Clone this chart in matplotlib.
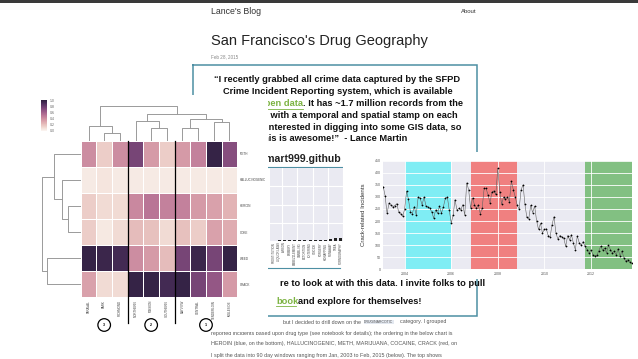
import numpy as np
import pandas as pd
import matplotlib
matplotlib.use("Agg")
import matplotlib.pyplot as plt
import matplotlib.dates as mdates
from matplotlib.patches import Rectangle, Circle
import seaborn as sns

W, H = 638, 359
DPI = 100
FONT = "Liberation Sans"

# ---------------- data ----------------
districts = ["TARAVAL", "PARK", "RICHMOND", "NORTHERN", "MISSION", "SOUTHERN",
             "BAYVIEW", "CENTRAL", "TENDERLOIN", "INGLESIDE"]
drugs = ["METH", "HALLUCINOGENIC", "HEROIN", "COKE", "WEED", "CRACK"]
meth = [0.40, 0.15, 0.40, 0.75, 0.35, 0.15, 0.35, 0.45, 0.97, 0.70]
hallucinogenic = [0.04, 0.06, 0.04, 0.04, 0.04, 0.04, 0.04, 0.04, 0.04, 0.04]
heroin = [0.15, 0.10, 0.10, 0.42, 0.50, 0.45, 0.45, 0.35, 0.32, 0.25]
coke = [0.15, 0.05, 0.10, 0.22, 0.20, 0.10, 0.20, 0.15, 0.32, 0.28]
weed = [0.97, 0.95, 0.92, 0.40, 0.35, 0.22, 0.75, 0.95, 0.75, 0.97]
crack = [0.32, 0.10, 0.10, 0.97, 0.97, 0.92, 0.97, 0.75, 0.65, 0.35]
cluster_sizes = [3, 3, 4]
cluster_names = ["3", "2", "1"]

# linkage: (left, right, height) ; leaves 0..n-1 in display order
col_linkage = [(1, 2, 8), (0, 10, 14), (4, 5, 12), (3, 12, 19), (6, 7, 12),
               (8, 9, 18), (14, 15, 21), (13, 16, 26), (11, 17, 34)]
row_linkage = [(2, 3, 13), (1, 6, 19), (0, 7, 27), (4, 5, 34), (8, 9, 39)]

crack_2003 = [342, 305, 232, 273, 266, 260, 264, 272, 236, 230, 220]
crack_2004 = [248, 324, 290, 238, 231, 260, 225, 300, 294, 267, 300, 262]
crack_2005 = [258, 253, 238, 212, 246, 232, 262, 232, 260, 294, 300, 245]
crack_2006 = [192, 226, 288, 246, 252, 246, 268, 225, 358, 330, 253, 296]
crack_2007 = [267, 253, 267, 231, 253, 335, 336, 308, 275, 320, 325, 310]
crack_2008 = [418, 322, 270, 300, 290, 300, 280, 365, 330, 300, 265, 250]
crack_2009 = [330, 350, 270, 215, 210, 265, 235, 262, 200, 165, 190, 150]
crack_2010 = [165, 168, 140, 135, 185, 218, 150, 125, 140, 135, 128, 95]
crack_2011 = [140, 122, 143, 108, 82, 138, 110, 100, 115, 95, 82, 68]
crack_2012 = [80, 60, 55, 58, 75, 95, 80, 88, 68, 100, 82, 68]
crack_2013 = [74, 60, 85, 55, 75, 48, 33, 40, 30, 25]
series_start = "2003-02-01"
spans = [("2004-01-01", "2006-01-01", "#7fedf4"),
         ("2006-11-01", "2008-11-01", "#f08080"),
         ("2011-10-01", "2013-10-01", "#82c082")]
y_ticks = [0, 50, 100, 150, 200, 250, 300, 350, 400, 450]

blog_bar_values = [0.4, 0.5, 0.5, 0.6, 0.7, 0.8, 0.8, 0.9, 1.0, 1.0, 1.2, 1.8, 2.2, 2.6]
blog_bar_labels = ["PROSTITUTION", "LIQUOR LAWS", "ARSON", "BRIBERY", "EMBEZZLEMENT",
                   "GAMBLING", "EXTORTION", "LOITERING", "SUICIDE", "FORGERY",
                   "KIDNAPPING", "RUNAWAY", "TREA", "PORNOGRAPHY"]

# ---------------- helpers ----------------
fig = plt.figure(figsize=(W / DPI, H / DPI), dpi=DPI)
fig.patch.set_facecolor("white")


def rect(x0, y0, x1, y1):
    return [x0 / W, 1 - y1 / H, (x1 - x0) / W, (y1 - y0) / H]


def panel(x0, y0, x1, y1, z):
    a = fig.add_axes(rect(x0, y0, x1, y1), zorder=z)
    a.set_xlim(x0, x1)
    a.set_ylim(y1, y0)
    a.set_xticks([])
    a.set_yticks([])
    a.set_facecolor("white")
    for s in a.spines.values():
        s.set_visible(False)
    return a


def dendro_segments(linkage, n):
    pos = {i: i + 0.5 for i in range(n)}
    hgt = {i: 0.0 for i in range(n)}
    segs = []
    for k, (a, b, h) in enumerate(linkage):
        node = n + k
        pa, pb = pos[a], pos[b]
        segs.append(([pa, pa, pb, pb], [hgt[a], h, h, hgt[b]]))
        pos[node] = (pa + pb) / 2
        hgt[node] = h
    return segs


# ---------------- base blog page ----------------
base = fig.add_axes([0, 0, 1, 1], zorder=0)
base.set_xlim(0, W)
base.set_ylim(H, 0)
base.axis("off")

base.add_patch(Rectangle((0, 0), W, 2.5, color="#3a3a3a", lw=0))
base.text(211, 11.5, "Lance's Blog", fontsize=6.3, color="#333333", va="center", family=FONT)
base.text(477, 11.5, "About", fontsize=4.3, color="#333333", va="center", ha="right", family=FONT)
base.text(211, 41, "San Francisco's Drug Geography", fontsize=10.5, color="#222222",
          va="center", family=FONT)
base.text(211, 57, "Feb 28, 2015", fontsize=3.3, color="#888888", va="center", family=FONT)

box_c = "#4d8fa3"
bx0, by0, bx1, by1 = 193, 65, 477, 316
base.plot([bx0, bx1, bx1, bx0, bx0], [by0, by0, by1, by1, by0], color=box_c, lw=1.1,
          solid_joinstyle="miter")

qkw = dict(fontsize=6.65, fontweight="bold", color="#111111", va="center", family=FONT)
base.text(337.5, 80, "\u201cI recently grabbed all crime data captured by the SFPD", ha="center", **qkw)
base.text(337.5, 92, "Crime Incident Reporting system, which is available", ha="center", **qkw)
base.text(303, 104, "open data", ha="right", **{**qkw, "color": "#7cb342"})
base.plot([262, 303], [108.5, 108.5], color="#7cb342", lw=0.6)
base.text(303, 104, ". It has ~1.7 million records from the", ha="left", **qkw)
base.text(458, 115.5, "2003 with a temporal and spatial stamp on each", ha="right", **qkw)
base.text(461, 127, "interested in digging into some GIS data, so", ha="right", **qkw)
base.text(407, 138.5, "this is awesome!\u201d  - Lance Martin", ha="right", **qkw)
base.text(341, 159, "rlmart999.github", ha="right", fontsize=7.6, fontweight="bold",
          color="#222222", va="center", family=FONT)
base.plot([262, 342], [167, 167], color=box_c, lw=0.8)
base.text(485, 283, "re to look at with this data. I invite folks to pull", ha="right", **qkw)
base.text(276, 301.5, "book", ha="left", **{**qkw, "color": "#7cb342"})
base.plot([276, 296], [306, 306], color="#7cb342", lw=0.6)
base.text(298, 301.5, "and explore for themselves!", ha="left", **qkw)
base.plot([262, 340], [268, 268], color=box_c, lw=0.8)

bkw = dict(fontsize=3.9, color="#555555", va="center", family=FONT)
base.text(361, 322, "but I decided to drill down on the", ha="right", **bkw)
base.text(364, 322, "DRUG/NARCOTIC", ha="left",
          bbox=dict(boxstyle="square,pad=0.1", fc="#e3e8f0", ec="none"),
          **{**bkw, "fontsize": 2.5})
base.text(400, 322, "category. I grouped", ha="left", **bkw)
base.text(211, 333, "reported incidents based upon drug type (see notebook for details); "
          "the ordering in the below chart is", ha="left", **bkw)
base.text(211, 344, "HEROIN (blue, on the bottom), HALLUCINOGENIC, METH, MARIJUANA, "
          "COCAINE, CRACK (red, on", ha="left", **bkw)
base.text(211, 355, "I split the data into 90 day windows ranging from Jan, 2003 to Feb, "
          "2015 (below). The top shows", ha="left", **bkw)

# embedded blog bar chart fragment
axb = fig.add_axes(rect(270, 168, 345, 241), zorder=0.5)
axb.set_facecolor("#eaeaf2")
bx = np.arange(len(blog_bar_values))
axb.bar(bx, blog_bar_values, width=0.6, color="#222222", zorder=3)
axb.set_xlim(-0.8, len(blog_bar_values) - 0.2)
axb.set_ylim(0, 60)
axb.set_xticks(bx)
axb.set_xticklabels(blog_bar_labels, rotation=90, fontsize=2.0, color="#444444", family=FONT)
axb.set_xticks([1.5, 4.5, 7.5, 10.5, 13.5], minor=True)
axb.set_yticks([15, 30, 45])
axb.set_yticklabels([])
axb.tick_params(which="both", length=0, pad=1)
axb.grid(True, which="minor", axis="x", color="white", lw=0.8)
axb.grid(True, which="major", axis="y", color="white", lw=0.8)
axb.set_axisbelow(True)
for s in axb.spines.values():
    s.set_visible(False)

# ---------------- heatmap overlay ----------------
hp = panel(35, 95, 268, 332, 1)
heat = np.array([meth, hallucinogenic, heroin, coke, weed, crack])
cmap = sns.cubehelix_palette(light=0.96, dark=0.15, as_cmap=True)

hx0, hy0, hx1, hy1 = 80.7, 140.7, 237.3, 297.3
axh = fig.add_axes(rect(hx0, hy0, hx1, hy1), zorder=2)
mesh = axh.pcolormesh(heat, cmap=cmap, vmin=0, vmax=1, edgecolors="white", linewidth=0.6)
axh.set_xlim(0, len(districts))
axh.set_ylim(len(drugs), 0)
axh.set_xticks(np.arange(len(districts)) + 0.5)
axh.set_xticklabels(districts, rotation=90, fontsize=2.2, color="#444444", family=FONT)
axh.set_yticks(np.arange(len(drugs)) + 0.5)
axh.set_yticklabels(drugs, fontsize=2.2, color="#444444", family=FONT)
axh.yaxis.tick_right()
axh.tick_params(length=0, pad=2)
for s in axh.spines.values():
    s.set_visible(False)
edge = 0
for sz in cluster_sizes[:-1]:
    edge += sz
    axh.plot([edge, edge], [0, 6.98], color="black", lw=0.9, clip_on=False)

# cluster circles (panel pixel coords)
cell_w = (hx1 - hx0) / len(districts)
start = 0
for sz, name in zip(cluster_sizes, cluster_names):
    cx = hx0 + (start + sz / 2) * cell_w
    hp.add_patch(Circle((cx, 325), 6.3, fill=False, ec="black", lw=0.9))
    hp.text(cx, 325, name, ha="center", va="center", fontsize=2.6, fontweight="bold",
            family=FONT)
    start += sz

# column dendrogram
axc = fig.add_axes(rect(hx0, 104, hx1, hy0), zorder=2)
for xs, ys in dendro_segments(col_linkage, len(districts)):
    axc.plot(xs, ys, color="#9a9a9a", lw=0.7)
axc.set_xlim(0, len(districts))
axc.set_ylim(0, 36)
axc.axis("off")

# row dendrogram
axr = fig.add_axes(rect(39.7, hy0, hx0, hy1), zorder=2)
for xs, ys in dendro_segments(row_linkage, len(drugs)):
    axr.plot(ys, xs, color="#9a9a9a", lw=0.7)
axr.set_xlim(41, 0)
axr.set_ylim(len(drugs), 0)
axr.axis("off")

# colorbar
cax = fig.add_axes(rect(40.7, 100, 47.3, 130.7), zorder=2)
cb = fig.colorbar(mesh, cax=cax)
cb.set_ticks([0, 0.2, 0.4, 0.6, 0.8, 1.0])
cb.ax.tick_params(labelsize=2.2, length=0, pad=1.5, labelcolor="#555555")
cb.outline.set_visible(False)

# ---------------- line chart overlay ----------------
lp = panel(343, 152, 638, 279, 3)
values = (crack_2003 + crack_2004 + crack_2005 + crack_2006 + crack_2007 + crack_2008 +
          crack_2009 + crack_2010 + crack_2011 + crack_2012 + crack_2013)
dates = pd.date_range(series_start, periods=len(values), freq="MS")

axl = fig.add_axes(rect(383.3, 160.7, 631.7, 269.3), zorder=4)
axl.set_facecolor("#eaeaf2")
for a, b, c in spans:
    axl.axvspan(pd.Timestamp(a), pd.Timestamp(b), color=c, lw=0, zorder=0.5)
axl.plot(dates, values, color="#606060", lw=0.4, marker="o", ms=1.0,
         mfc="black", mec="black", mew=0.2, zorder=3)
axl.set_xlim(dates[0], dates[-1])
axl.set_ylim(0, 450)
axl.set_yticks(y_ticks)
axl.xaxis.set_major_locator(mdates.YearLocator(2))
axl.xaxis.set_major_formatter(mdates.DateFormatter("%Y"))
axl.tick_params(labelsize=2.6, length=0, pad=2, labelcolor="#555555")
for lab in axl.get_xticklabels() + axl.get_yticklabels():
    lab.set_family(FONT)
axl.grid(True, color="white", lw=0.6)
axl.set_axisbelow(True)
for s in axl.spines.values():
    s.set_visible(False)
axl.set_ylabel("Crack-related Incidents", fontsize=4.4, color="#333333", family=FONT,
               labelpad=6)

fig.savefig("out.png", dpi=DPI, facecolor="white")
